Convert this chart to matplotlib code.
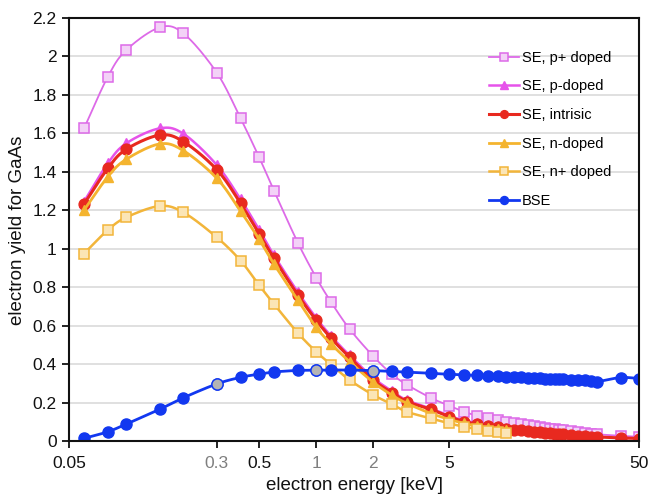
import numpy as np
import matplotlib
matplotlib.use('Agg')
import matplotlib.pyplot as plt
from matplotlib.lines import Line2D
from matplotlib.ticker import FixedLocator, NullLocator

plt.rcParams['font.family'] = ['Liberation Sans', 'DejaVu Sans']

# beam energies [keV]
energy_se = [0.06, 0.08, 0.1, 0.15, 0.2, 0.3, 0.4, 0.5, 0.6, 0.8, 1, 1.2, 1.5,
             2, 2.5, 3, 4, 5, 6, 7, 8, 9, 10]
energy_all = energy_se + [11, 12, 13, 14, 15, 16, 17, 18, 19, 20, 22, 24, 26,
                          28, 30, 40, 50]

se_p_plus = [1.626, 1.894, 2.033, 2.151, 2.120, 1.915, 1.678, 1.477, 1.301,
             1.032, 0.850, 0.721, 0.582, 0.440, 0.348, 0.293, 0.225, 0.184,
             0.152, 0.132, 0.120, 0.110, 0.101, 0.094, 0.088, 0.082, 0.077,
             0.072, 0.068, 0.064, 0.061, 0.058, 0.055, 0.050, 0.046, 0.042,
             0.038, 0.035, 0.027, 0.022]
se_p = [1.245, 1.444, 1.548, 1.626, 1.598, 1.435, 1.257, 1.100, 0.965, 0.775,
        0.640, 0.545, 0.445, 0.328, 0.260, 0.212, 0.170, 0.132, 0.106, 0.093,
        0.083, 0.076, 0.069]
se_intr = [1.232, 1.418, 1.517, 1.591, 1.557, 1.411, 1.236, 1.078, 0.950,
           0.760, 0.628, 0.534, 0.435, 0.317, 0.252, 0.205, 0.165, 0.127,
           0.101, 0.089, 0.078, 0.071, 0.064, 0.059, 0.055, 0.051, 0.048,
           0.045, 0.042, 0.040, 0.038, 0.036, 0.034, 0.031, 0.028, 0.025,
           0.023, 0.021, 0.016, 0.013]
se_n = [1.201, 1.374, 1.465, 1.545, 1.510, 1.366, 1.195, 1.050, 0.920, 0.733,
        0.591, 0.504, 0.412, 0.305, 0.239, 0.196, 0.144, 0.113, 0.092, 0.078,
        0.070, 0.063, 0.057]
se_n_plus = [0.975, 1.097, 1.163, 1.222, 1.189, 1.059, 0.938, 0.811, 0.712,
             0.562, 0.464, 0.397, 0.317, 0.239, 0.192, 0.152, 0.118, 0.092,
             0.074, 0.062, 0.054, 0.048, 0.043]
bse = [0.014, 0.048, 0.088, 0.165, 0.225, 0.297, 0.331, 0.348, 0.359, 0.367,
       0.368, 0.369, 0.369, 0.366, 0.362, 0.359, 0.352, 0.347, 0.344, 0.341,
       0.338, 0.336, 0.334, 0.332, 0.331, 0.329, 0.328, 0.327, 0.325, 0.324,
       0.323, 0.322, 0.321, 0.319, 0.317, 0.315, 0.312, 0.308, 0.330, 0.325]
bse_marked = [0.3, 1, 2]   # points shown in grey

xticks = [0.05, 0.3, 0.5, 1, 2, 5, 50]
xtick_labels = ['0.05', '0.3', '0.5', '1', '2', '5', '50']
grey_ticks = ['0.3', '1', '2']
yticks = np.arange(0, 2.21, 0.2)


def smooth(x, y, n=20):
    # Catmull-Rom spline through the points, in log(x)
    lx = np.log10(np.asarray(x, float))
    y = np.asarray(y, float)
    px = np.concatenate([[2*lx[0] - lx[1]], lx, [2*lx[-1] - lx[-2]]])
    py = np.concatenate([[2*y[0] - y[1]], y, [2*y[-1] - y[-2]]])
    t = np.linspace(0, 1, n, endpoint=False)[:, None]
    sx, sy = [], []
    for i in range(1, len(px) - 2):
        for p, out in ((px, sx), (py, sy)):
            p0, p1, p2, p3 = p[i-1], p[i], p[i+1], p[i+2]
            c = 0.5*(2*p1 + (-p0 + p2)*t + (2*p0 - 5*p1 + 4*p2 - p3)*t**2
                     + (-p0 + 3*p1 - 3*p2 + p3)*t**3)
            out.extend(c.ravel())
    sx.append(lx[-1])
    sy.append(y[-1])
    return 10**np.array(sx), np.array(sy)


series = [
    ('SE, p+ doped', energy_all, se_p_plus,
     dict(color='#dd6ae8', lw=1.3, marker='s', ms=7.4, mfc='#f3d2f7', mec='#dd6ae8', mew=1.1)),
    ('SE, p-doped', energy_se, se_p,
     dict(color='#e653ea', lw=1.8, marker='^', ms=7.8, mfc='#e653ea', mec='#e653ea', mew=1)),
    ('SE, intrisic', energy_all, se_intr,
     dict(color='#e8291f', lw=2.2, marker='o', ms=7.8, mfc='#e8291f', mec='#e8291f', mew=1)),
    ('SE, n-doped', energy_se, se_n,
     dict(color='#f4b42f', lw=2.0, marker='^', ms=7.8, mfc='#f4b42f', mec='#f4b42f', mew=1)),
    ('SE, n+ doped', energy_se, se_n_plus,
     dict(color='#f2b53a', lw=1.8, marker='s', ms=7.4, mfc='#fbe5b6', mec='#f2b53a', mew=1.1)),
    ('BSE', energy_all, bse,
     dict(color='#1238f0', lw=2.0, marker='o', ms=8.0, mfc='#1238f0', mec='#1238f0', mew=1)),
]

fig = plt.figure(figsize=(6.49, 4.96), dpi=100)
ax = fig.add_axes([69/649, 1 - 441/496, 570/649, 423/496])

handles = []
for label, x, y, st in series:
    sx, sy = smooth(x, y)
    ax.plot(sx, sy, color=st['color'], lw=st['lw'], solid_capstyle='round')
    ax.plot(x, y, ls='none', marker=st['marker'], ms=st['ms'],
            mfc=st['mfc'], mec=st['mec'], mew=st['mew'])
    handles.append(Line2D([], [], color=st['color'], lw=st['lw'], marker=st['marker'],
                          ms=st['ms']*0.72, mfc=st['mfc'], mec=st['mec'], mew=st['mew'],
                          label=label))

# grey highlighted BSE points
idx = [energy_all.index(e) for e in bse_marked]
ax.plot([energy_all[i] for i in idx], [bse[i] for i in idx], ls='none',
        marker='o', ms=8.0, mfc='#b4b4b4', mec='#1238f0', mew=1)

ax.set_xscale('log')
ax.set_xlim(0.05, 50)
ax.set_ylim(0, 2.2)
ax.xaxis.set_major_locator(FixedLocator(xticks))
ax.xaxis.set_minor_locator(NullLocator())
ax.set_xticklabels(xtick_labels)
ax.set_yticks(yticks)
ax.set_yticklabels(['%g' % round(v, 1) for v in yticks])

ax.tick_params(axis='both', direction='out', length=5, width=1.3, labelsize=12.5,
               colors='#111111')
ax.tick_params(axis='y', pad=4)
ax.tick_params(axis='x', pad=6)
for lab in ax.get_xticklabels():
    if lab.get_text() in grey_ticks:
        lab.set_color('#7f7f7f')

ax.yaxis.grid(True, color='#dddddd', lw=1.3)
ax.set_axisbelow(True)
for sp in ax.spines.values():
    sp.set_linewidth(1.5)
    sp.set_color('#111111')

ax.set_xlabel('electron energy [keV]', fontsize=13.5, color='#111111')
ax.set_ylabel('electron yield for GaAs', fontsize=13.5, color='#111111')
ax.xaxis.set_label_coords(0.5, -0.085)
ax.yaxis.set_label_coords(-0.076, 0.497)

ax.legend(handles=handles, loc='upper right', bbox_to_anchor=(0.961, 0.936),
          frameon=False, fontsize=10.5, handlelength=2.1, handletextpad=0.15,
          labelspacing=1.0, borderaxespad=0)

fig.savefig('out.png', dpi=100)
